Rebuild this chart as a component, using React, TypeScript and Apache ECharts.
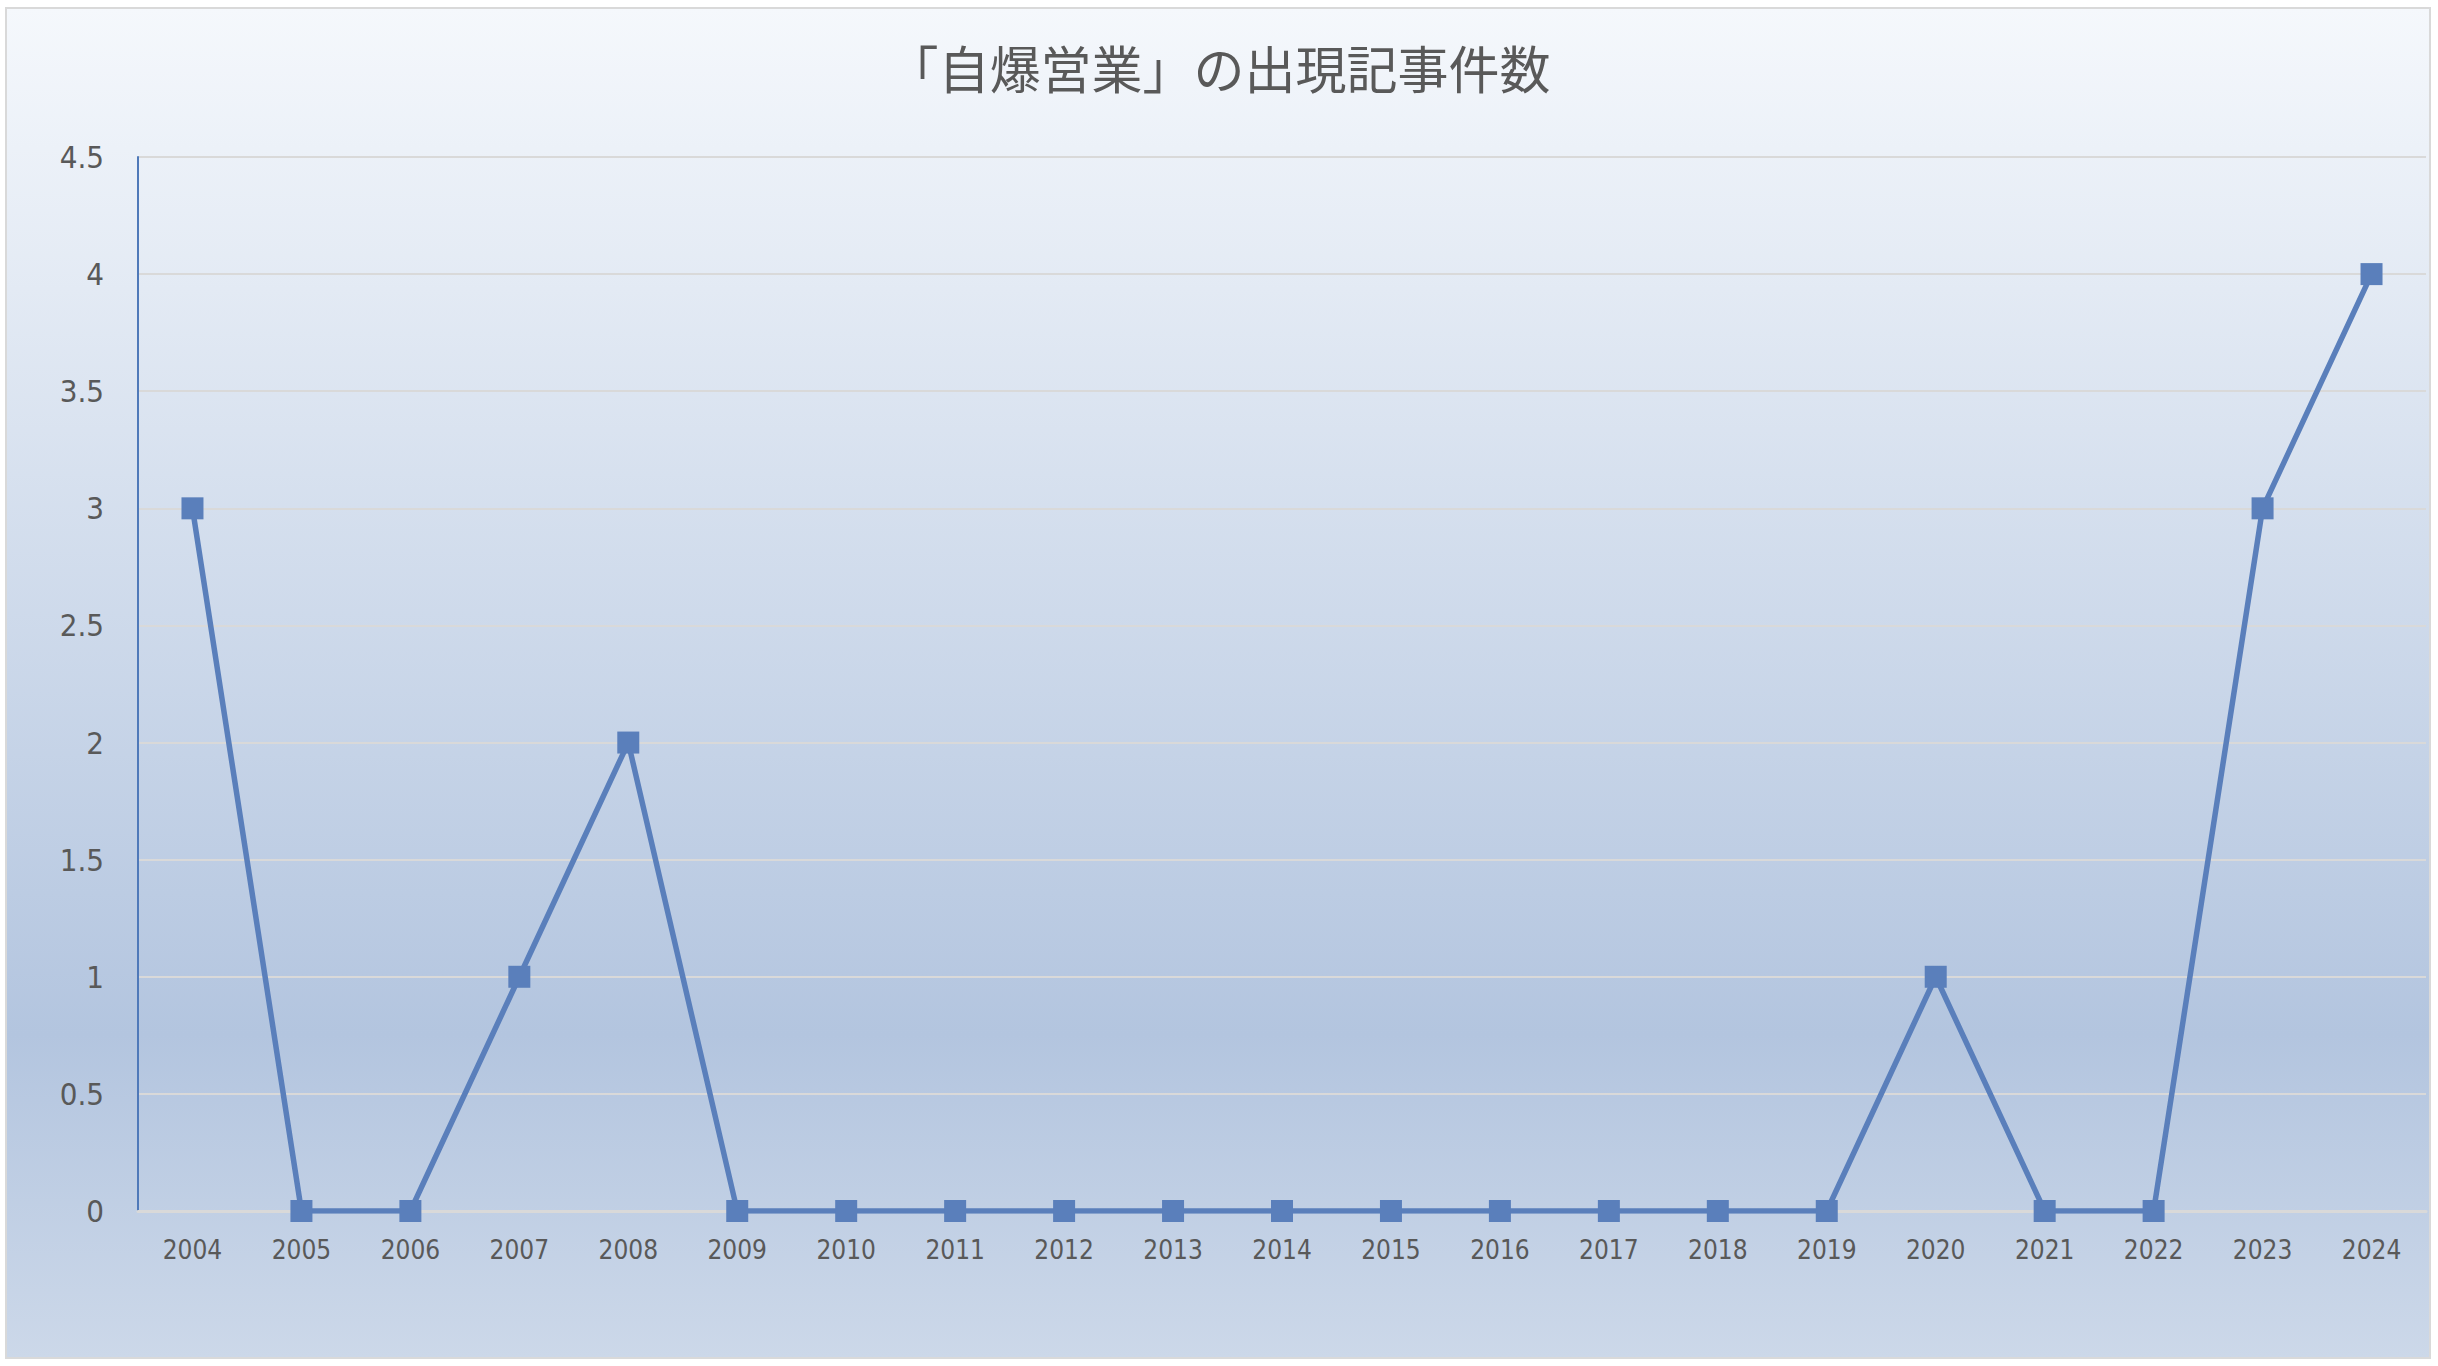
import { useEffect, useRef } from 'react';
import * as echarts from 'echarts';

const TITLE = '「自爆営業」の出現記事件数';

const years = [
  '2004', '2005', '2006', '2007', '2008', '2009', '2010', '2011', '2012', '2013', '2014',
  '2015', '2016', '2017', '2018', '2019', '2020', '2021', '2022', '2023', '2024',
];

const articleCounts = [3, 0, 0, 1, 2, 0, 0, 0, 0, 0, 0, 0, 0, 0, 0, 0, 1, 0, 0, 3, 4];

const LINE_BLUE = '#5a7fbb';
const LABEL_GREY = '#595959';
const GRID_GREY = '#d9d9d9';
const NARROW = "'Liberation Sans Narrow', 'DejaVu Sans Condensed', 'Noto Sans', sans-serif";

export default function App() {
  const ref = useRef<HTMLDivElement | null>(null);

  useEffect(() => {
    if (!ref.current) return;
    const chart = echarts.init(ref.current, null, { renderer: 'svg' });

    chart.setOption({
      animation: false,
      graphic: [
        {
          type: 'rect',
          z: -10,
          silent: true,
          shape: { x: 6, y: 8, width: 2424, height: 1350 },
          style: {
            fill: new echarts.graphic.LinearGradient(0, 0, 0, 1, [
              { offset: 0, color: '#f5f8fc' },
              { offset: 0.76, color: '#b3c5df' },
              { offset: 1, color: '#ccd8e9' },
            ]),
            stroke: GRID_GREY,
            lineWidth: 2,
          },
        },
      ],
      title: {
        text: TITLE,
        left: 'center',
        top: 36,
        textStyle: {
          color: LABEL_GREY,
          fontSize: 51,
          fontWeight: 'normal',
          fontFamily: "'Noto Sans CJK JP', sans-serif",
        },
      },
      grid: { left: 138, right: 12, top: 157, bottom: 155 },
      xAxis: {
        type: 'category',
        data: years,
        boundaryGap: true,
        axisTick: { show: false },
        axisLine: { show: true, lineStyle: { color: GRID_GREY, width: 3 } },
        axisLabel: { color: LABEL_GREY, fontSize: 26, margin: 26, fontFamily: NARROW },
      },
      yAxis: {
        type: 'value',
        min: 0,
        max: 4.5,
        interval: 0.5,
        axisLine: { show: true, lineStyle: { color: '#4f79b9', width: 2 } },
        axisTick: { show: false },
        splitLine: { lineStyle: { color: GRID_GREY, width: 2 } },
        axisLabel: { color: LABEL_GREY, fontSize: 31, margin: 34, fontFamily: NARROW },
      },
      series: [
        {
          type: 'line',
          data: articleCounts,
          symbol: 'rect',
          symbolSize: 22,
          itemStyle: { color: LINE_BLUE },
          lineStyle: { color: LINE_BLUE, width: 5.5 },
        },
      ],
    });

    return () => chart.dispose();
  }, []);

  return (
    <div
      ref={ref}
      style={{ position: 'absolute', left: 0, top: 0, width: 2438, height: 1366 }}
    />
  );
}
